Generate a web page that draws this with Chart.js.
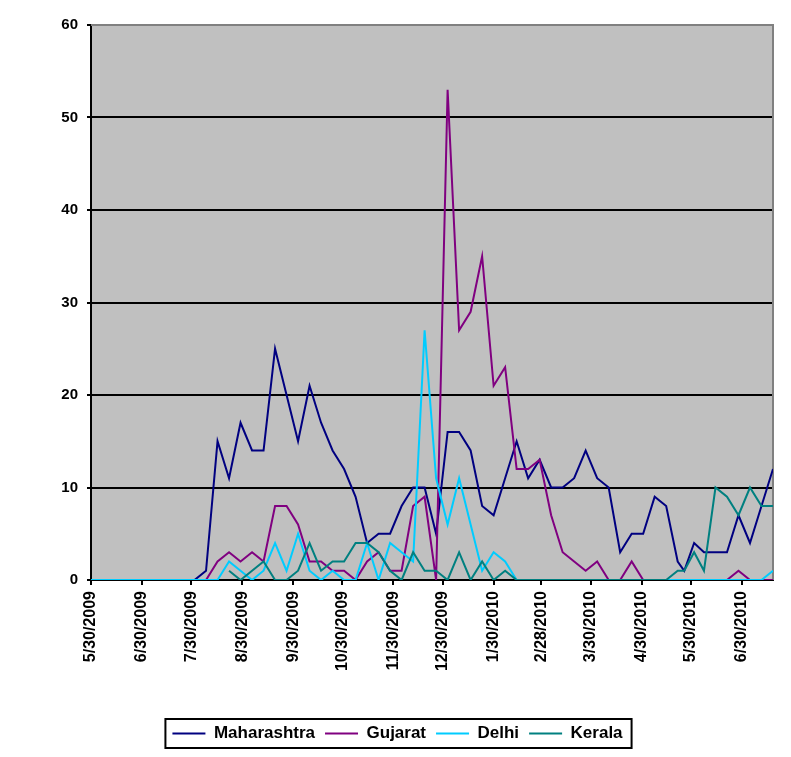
<!DOCTYPE html>
<html>
<head>
<meta charset="utf-8">
<script src="https://cdn.jsdelivr.net/npm/chart.js@4/dist/chart.umd.min.js"></script>
<style>
html,body{margin:0;padding:0;background:#fff;}
#wrap{width:791px;height:757px;}
</style>
</head>
<body>
<div id="wrap"><canvas id="c" width="791" height="757"></canvas></div>
<script>
// Days since 5/30/2009 for each observation
const dayOffsets = [0,7,14,21,28,35,42,49,56,63,70,77,84,91,98,105,112,119,126,133,140,147,154,161,168,175,182,189,196,203,210,217,224,231,238,245,252,259,266,273,280,287,294,301,308,315,322,329,336,343,350,357,361,367,373,380,387,394,401,408,415];

// Axis tick positions (days since 5/30/2009) and labels
const tickDays = [0,31,61,92,123,153,184,214,245,274,304,335,365,396];
const tickLabels = ['5/30/2009','6/30/2009','7/30/2009','8/30/2009','9/30/2009','10/30/2009','11/30/2009','12/30/2009','1/30/2010','2/28/2010','3/30/2010','4/30/2010','5/30/2010','6/30/2010'];

const seriesNames = ['Maharashtra','Gujarat','Delhi','Kerala'];

const maharashtra = [null,null,null,null,null,null,null,null,null,
  0,1,15,11,17,14,14,25,20,15,21,17,14,12,9,4,5,5,8,10,10,5,16,16,14,8,7,11,15,11,13,10,10,11,14,11,10,3,5,5,9,8,2,
  1,4,3,3,3,7,4,8,12];

const gujarat = [null,null,null,null,null,null,null,null,null,null,
  0,2,3,2,3,2,8,8,6,2,2,1,1,0,2,3,1,1,8,9,0,53,27,29,35,21,23,12,12,13,7,3,2,1,2,0,0,2,0,0,0,0,
  0,0,0,0,0,1,0,0,0];

const delhi = [0,0,0,0,0,0,0,0,0,0,0,0,
  2,1,0,1,4,1,5,1,0,1,0,0,4,0,4,3,2,27,11,6,11,6,1,3,2,0,
  0,0,0,0,0,0,0,0,0,0,0,0,0,0,
  0,0,0,0,0,0,0,0,1];

const kerala = [null,null,null,null,null,null,null,null,null,null,null,null,
  1,0,1,2,0,0,1,4,1,2,2,4,4,3,1,0,3,1,1,0,3,0,2,0,1,
  0,0,0,0,0,0,0,0,0,0,0,0,0,0,
  1,
  1,3,1,10,9,7,10,8,8];

const colors = ['#000080','#800080','#00CCFF','#008080'];
const seriesData = [maharashtra, gujarat, delhi, kerala];

const FONT = "'Liberation Sans', Arial, sans-serif";

const plotBg = {
  id: 'plotBg',
  beforeDraw(chart) {
    const {ctx, chartArea: a} = chart;
    ctx.save();
    ctx.fillStyle = '#C0C0C0';
    ctx.fillRect(a.left, a.top, a.right - a.left, a.bottom - a.top);
    ctx.restore();
  },
  beforeDatasetsDraw(chart) {
    const {ctx, chartArea: a} = chart;
    ctx.save();
    ctx.strokeStyle = '#808080';
    ctx.lineWidth = 2;
    ctx.beginPath();
    ctx.moveTo(a.left, a.top);
    ctx.lineTo(a.right, a.top);
    ctx.lineTo(a.right, a.bottom);
    ctx.stroke();
    ctx.restore();
  }
};

const legendBox = {
  id: 'legendBox',
  afterDraw(chart) {
    const lg = chart.legend;
    if (!lg || !lg.legendHitBoxes || !lg.legendHitBoxes.length) return;
    const hb = lg.legendHitBoxes;
    const first = hb[0], last = hb[hb.length - 1];
    const cy = first.top + first.height / 2;
    const x1 = first.left - 7, x2 = last.left + last.width + 9;
    const ctx = chart.ctx;
    ctx.save();
    ctx.strokeStyle = '#000';
    ctx.lineWidth = 2;
    ctx.strokeRect(x1, cy - 14.5, x2 - x1, 29);
    ctx.restore();
  }
};

new Chart(document.getElementById('c'), {
  type: 'line',
  data: {
    datasets: seriesNames.map((name, i) => ({
      label: name,
      data: dayOffsets.map((d, j) => ({x: d, y: seriesData[i][j]})),
      borderColor: colors[i],
      backgroundColor: colors[i],
      borderWidth: 2,
      pointRadius: 0,
      pointHoverRadius: 0,
      tension: 0,
      spanGaps: false,
      order: 4 - i
    }))
  },
  options: {
    responsive: false,
    devicePixelRatio: 1,
    animation: false,
    events: [],
    layout: {padding: {left: 22, right: 18, top: 25, bottom: 5}},
    scales: {
      x: {
        type: 'linear',
        min: 0,
        max: 415,
        border: {color: '#000', width: 2},
        grid: {drawOnChartArea: false, drawTicks: true, tickLength: 5, tickColor: '#000', color: '#000', lineWidth: 2},
        afterBuildTicks: (s) => { s.ticks = tickDays.map(v => ({value: v})); },
        afterFit: (s) => { s.height = 135; },
        ticks: {
          autoSkip: false,
          minRotation: 90,
          maxRotation: 90,
          padding: 6,
          color: '#000',
          font: {family: FONT, size: 16, weight: 'bold'},
          callback: (v) => { const k = tickDays.indexOf(v); return k >= 0 ? tickLabels[k] : ''; }
        }
      },
      y: {
        min: 0,
        max: 60,
        border: {color: '#000', width: 2},
        grid: {
          color: (c) => (c.tick && c.tick.value === 60) ? 'rgba(0,0,0,0)' : '#000',
          tickColor: '#000',
          lineWidth: 2,
          tickLength: 4
        },
        afterFit: (s) => { s.width = 69; },
        ticks: {
          stepSize: 10,
          padding: 9,
          color: '#000',
          font: {family: FONT, size: 15, weight: 'bold'}
        }
      }
    },
    plugins: {
      tooltip: {enabled: false},
      legend: {
        position: 'bottom',
        labels: {
          boxWidth: 33,
          boxHeight: 2,
          padding: 10,
          color: '#000',
          font: {family: FONT, size: 17, weight: 'bold'},
          sort: (a, b) => a.datasetIndex - b.datasetIndex,
          generateLabels: (chart) => Chart.defaults.plugins.legend.labels.generateLabels(chart).map(l => Object.assign({}, l, {lineWidth: 0, fillStyle: l.strokeStyle}))
        }
      }
    }
  },
  plugins: [plotBg, legendBox]
});
</script>
</body>
</html>
